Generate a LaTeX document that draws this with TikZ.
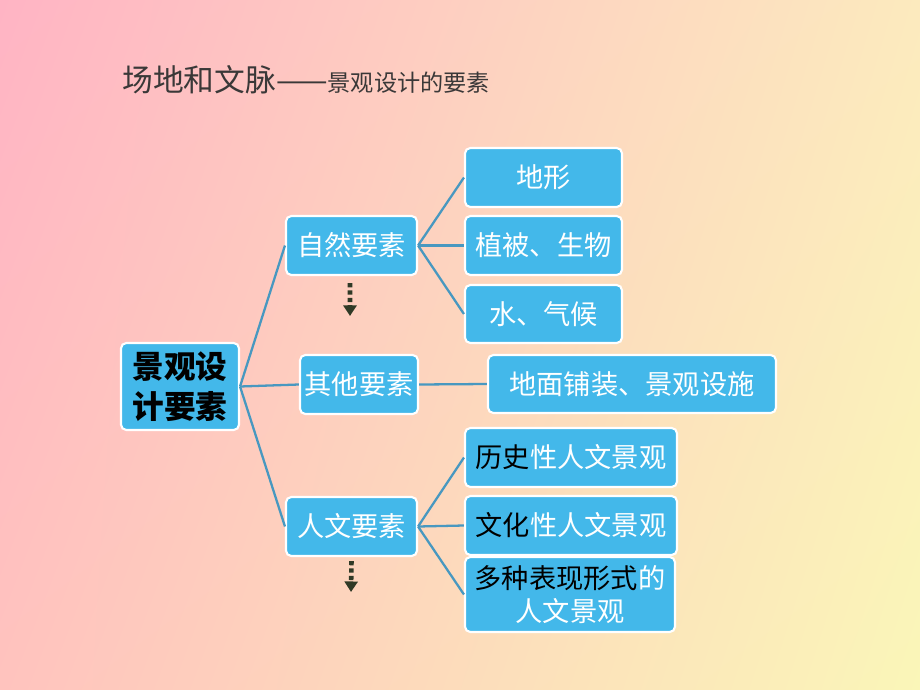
\documentclass[tikz,border=0pt]{standalone}
\usepackage{fontspec}
\setmainfont{Noto Sans CJK SC}
\usetikzlibrary{arrows.meta,shadings}
\definecolor{bgpink}{RGB}{255,180,196}
\definecolor{bgpeach}{RGB}{252,234,190}
\definecolor{bgrose}{RGB}{255,195,190}
\definecolor{bgyellow}{RGB}{250,246,184}
\definecolor{boxblue}{RGB}{67,184,234}
\definecolor{linkblue}{RGB}{72,152,192}
\definecolor{markdark}{RGB}{48,58,38}
\definecolor{titlegray}{RGB}{58,56,56}
\begin{document}
\begin{tikzpicture}[x=0.02cm, y=-0.02cm,
    box/.style={draw=white, line width=1.2pt, fill=boxblue, rounded corners=3pt, inner sep=0pt,
        align=center, text=white, font=\fontsize{15.5}{18.7}\selectfont},
    link/.style={draw=linkblue, line width=1.3pt},
    more/.style={draw=markdark, line width=2.6pt, dash pattern=on 2.4pt off 1.8pt,
        -{Triangle[length=6pt, width=7.4pt]}}]
    % background
    \useasboundingbox (0,0) rectangle (920,690);
    \shade[upper left=bgpink, upper right=bgpeach, lower left=bgrose, lower right=bgyellow] (0,0) rectangle (920,690);
    % title
    \node[anchor=west, text=titlegray, inner sep=0pt] (title) at (122,80)
        {\fontsize{17.5}{20}\selectfont 场地和文脉——\fontsize{13.2}{15}\selectfont 景观设计的要素};
    % root and main branches
    \node[box, minimum width=2.36cm, minimum height=1.74cm, text=black,
        font=\fontsize{18}{22.5}\selectfont\bfseries] (root) at (180,386.5) {景观设\\计要素};
    \node[box, minimum width=2.62cm, minimum height=1.18cm] (nature) at (351.5,245.5) {自然要素};
    \node[box, minimum width=2.36cm, minimum height=1.18cm] (other) at (359,384.5) {其他要素};
    \node[box, minimum width=2.62cm, minimum height=1.18cm] (human) at (351.5,526.5) {人文要素};
    % leaves
    \node[box, minimum width=3.14cm, minimum height=1.18cm] (terrain) at (543.5,177.5) {地形};
    \node[box, minimum width=3.14cm, minimum height=1.18cm] (plant) at (543.5,245.5) {植被、生物};
    \node[box, minimum width=3.14cm, minimum height=1.16cm] (water) at (543.5,314) {水、气候};
    \node[box, minimum width=5.76cm, minimum height=1.16cm] (paving) at (632,384) {地面铺装、景观设施};
    \node[box, minimum width=4.24cm, minimum height=1.18cm] (history) at (571,457.5) {\textcolor{black}{历史}性人文景观};
    \node[box, minimum width=4.24cm, minimum height=1.18cm] (culture) at (571,525.5) {\textcolor{black}{文化}性人文景观};
    \node[box, minimum width=4.2cm, minimum height=1.5cm] (forms) at (570,594.5) {\textcolor{black}{多种表现形式}的\\人文景观};
    % connectors
    \draw[link] (root.east) -- (nature.west);
    \draw[link] (root.east) -- (other.west);
    \draw[link] (root.east) -- (human.west);
    \draw[link] (nature.east) -- (terrain.west);
    \draw[link] (nature.east) -- (plant.west);
    \draw[link] (nature.east) -- (water.west);
    \draw[link] (other.east) -- (paving.west);
    \draw[link] (human.east) -- (history.west);
    \draw[link] (human.east) -- (culture.west);
    \draw[link] (human.east) -- (forms.west);
    % dotted "more" arrows
    \coordinate (natureend) at (350,316);
    \coordinate (humanend) at (351,592);
    \draw[more] ([xshift=-0.03cm, yshift=-0.14cm]nature.south) -- (natureend);
    \draw[more] ([yshift=-0.08cm]human.south) -- (humanend);
\end{tikzpicture}
\end{document}
